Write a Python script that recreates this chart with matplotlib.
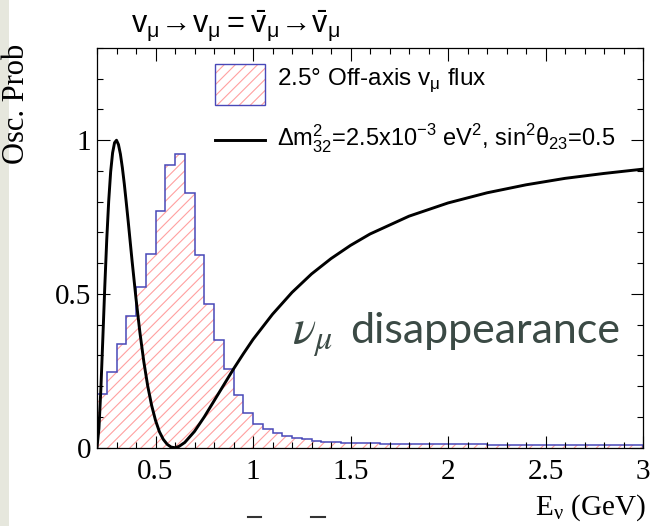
import numpy as np
import matplotlib
matplotlib.use("Agg")
import matplotlib.pyplot as plt
from matplotlib.patches import Rectangle
from matplotlib.lines import Line2D
from matplotlib.ticker import MultipleLocator, FormatStrFormatter

# 2.5 deg off-axis flux, 0.05 GeV bins from 0.2 to 3.0 GeV (arb. units)
bin_edges = np.round(np.arange(0.2, 3.0001, 0.05), 2)
flux = [0.174, 0.246, 0.336, 0.429, 0.523, 0.630, 0.770, 0.921, 0.956, 0.828,
        0.626, 0.468, 0.349, 0.255, 0.170, 0.112, 0.077, 0.060, 0.047, 0.038,
        0.032, 0.027, 0.023, 0.020, 0.017, 0.016, 0.015, 0.014, 0.014, 0.013,
        0.013, 0.012, 0.012, 0.012, 0.011, 0.011, 0.011, 0.011, 0.011, 0.011,
        0.010, 0.010, 0.010, 0.010, 0.010, 0.010, 0.010, 0.010, 0.010, 0.009,
        0.009, 0.009, 0.009, 0.009, 0.009, 0.009]

# survival probability curve (black line)
energy = [0.20, 0.21, 0.22, 0.23, 0.24, 0.25, 0.26, 0.27, 0.28, 0.29, 0.30,
          0.31, 0.32, 0.33, 0.34, 0.35, 0.36, 0.38, 0.40, 0.42, 0.44, 0.46,
          0.48, 0.50, 0.52, 0.54, 0.56, 0.58, 0.60, 0.62, 0.65, 0.70, 0.75,
          0.80, 0.85, 0.90, 0.95, 1.00, 1.10, 1.20, 1.30, 1.40, 1.50, 1.60,
          1.80, 2.00, 2.20, 2.40, 2.60, 2.80, 3.00]
prob = [0.001, 0.063, 0.193, 0.357, 0.525, 0.677, 0.802, 0.897, 0.959, 0.992, 1.000,
        0.986, 0.955, 0.911, 0.858, 0.798, 0.736, 0.607, 0.485, 0.375, 0.280, 0.201,
        0.138, 0.089, 0.052, 0.027, 0.011, 0.002, 0.000, 0.004, 0.017, 0.053, 0.100,
        0.152, 0.204, 0.256, 0.305, 0.352, 0.434, 0.505, 0.565, 0.615, 0.658, 0.695,
        0.753, 0.796, 0.829, 0.855, 0.876, 0.892, 0.906]

plt.rcParams['font.family'] = ['Liberation Serif', 'DejaVu Serif']
plt.rcParams['hatch.linewidth'] = 0.8

fig = plt.figure(figsize=(6.53, 5.26), dpi=100)
ax = fig.add_axes([97 / 653, 1 - 447.7 / 526, 546 / 653, 399.7 / 526])

# slide background strip on the left
fig.patches.append(Rectangle((0, 0), 9 / 653, 1, transform=fig.transFigure,
                             facecolor='#e6e7dd', edgecolor='none'))

hatch_col = '#ffa0a0'
line_col = '#4848b8'
ax.stairs(flux, bin_edges, fill=True, facecolor='white', edgecolor=hatch_col,
          hatch='///', linewidth=0)
ax.stairs(flux, bin_edges, color=line_col, linewidth=1.1, baseline=0)
ax.plot(energy, prob, color='black', linewidth=2.1)

ax.set_xlim(0.2, 3.0)
ax.set_ylim(0, 1.3)
ax.xaxis.set_major_locator(MultipleLocator(0.5))
ax.xaxis.set_minor_locator(MultipleLocator(0.1))
ax.yaxis.set_major_locator(MultipleLocator(0.5))
ax.yaxis.set_minor_locator(MultipleLocator(0.1))
ax.xaxis.set_major_formatter(FormatStrFormatter('%g'))
ax.yaxis.set_major_formatter(FormatStrFormatter('%g'))
ax.tick_params(which='both', direction='in', top=True, right=True, width=0.8)
ax.tick_params(which='major', length=9, labelsize=21)
ax.tick_params(axis='x', which='major', pad=8)
ax.tick_params(axis='y', which='major', pad=4)
ax.tick_params(which='minor', length=4.5)
for sp in ax.spines.values():
    sp.set_linewidth(0.9)

# axis titles
fig.text(646 / 653, 1 - 515 / 526, r'E$_\mathregular{\nu}$ (GeV)', ha='right',
         va='baseline', fontsize=21, family='Liberation Serif')
fig.text(17 / 653, 1 - 44 / 526, 'Osc. Prob', rotation=90, ha='center', va='top',
         fontsize=22, family='Liberation Serif')

# title
fig.text(236 / 653, 1 - 33 / 526,
         r'$\mathregular{v_{\mu}\!\rightarrow\!v_{\mu}=\bar{v}_{\mu}\!\rightarrow\!\bar{v}_{\mu}}$',
         ha='center', va='baseline', fontsize=22, family=['Liberation Sans', 'DejaVu Sans'])

# legend drawn by hand
ax.add_patch(Rectangle((0.216, 0.857), 0.092, 0.103, transform=ax.transAxes,
                       facecolor='white', edgecolor=hatch_col, hatch='///', linewidth=0))
ax.add_patch(Rectangle((0.216, 0.857), 0.092, 0.103, transform=ax.transAxes,
                       facecolor='none', edgecolor=line_col, linewidth=1.0))
ax.add_line(Line2D([0.216, 0.308], [0.770, 0.770], transform=ax.transAxes,
                   color='black', linewidth=2.1))
ax.text(0.33, 0.907, r'2.5° Off-axis v$_\mathregular{\mu}$ flux', transform=ax.transAxes,
        ha='left', va='baseline', fontsize=17.5, family=['Liberation Sans', 'DejaVu Sans'])
ax.text(0.33, 0.753,
        r'$\mathregular{\Delta m^{2}_{32}}$=2.5x10$^\mathregular{-3}$ eV$^\mathregular{2}$, '
        r'sin$^\mathregular{2}$θ$_\mathregular{23}$=0.5',
        transform=ax.transAxes, ha='left', va='baseline', fontsize=17,
        family=['Liberation Sans', 'DejaVu Sans'])

# annotation
ax.text(1.20, 0.34, r'$\nu_\mu$', ha='left', va='baseline', fontsize=35,
        math_fontfamily='stix', color='#3b4a45')
ax.text(1.497, 0.34, 'disappearance', ha='left', va='baseline', fontsize=31,
        family='Lato', color='#3b4a45')

# overlines of the cut-off text under the figure
for x0, x1 in [(248, 261), (311, 325)]:
    fig.lines.append(Line2D([x0 / 653, x1 / 653], [1 - 517 / 526] * 2,
                            transform=fig.transFigure, color='#333333', linewidth=1.5))

fig.savefig('out.png', dpi=100)
